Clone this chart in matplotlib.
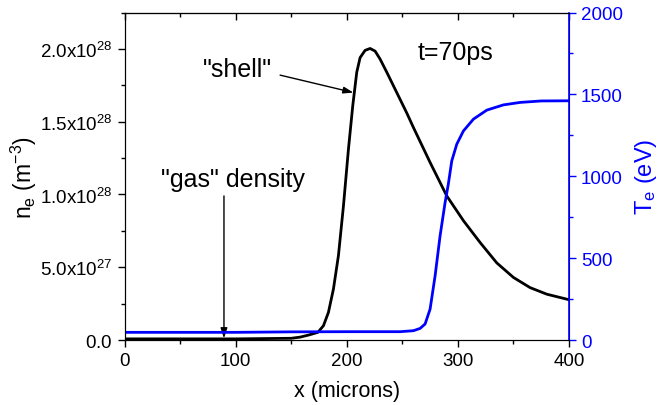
import numpy as np
import matplotlib.pyplot as plt
from matplotlib.ticker import FixedLocator, FixedFormatter, MultipleLocator

plt.rcParams["font.family"] = ["Liberation Sans", "DejaVu Sans"]
plt.rcParams["mathtext.fontset"] = "custom"
plt.rcParams["mathtext.rm"] = "Liberation Sans"
plt.rcParams["mathtext.it"] = "Liberation Sans:italic"

# electron density profile (units of 1e28 m^-3)
x_ne = [0, 50, 100, 150, 158, 166, 174, 179, 183.5, 188, 192.5, 197, 201.5,
        205.4, 209, 212, 216.5, 221, 225.5, 230, 236, 245, 254, 260, 275, 290,
        305, 320, 335, 350, 365, 380, 400]
ne = [0.008, 0.008, 0.008, 0.012, 0.02, 0.035, 0.053, 0.098, 0.19, 0.35, 0.58,
      0.92, 1.31, 1.61, 1.84, 1.94, 1.99, 2.003, 1.985, 1.93, 1.84, 1.70, 1.56,
      1.46, 1.22, 0.99, 0.82, 0.67, 0.53, 0.43, 0.36, 0.315, 0.277]

# electron temperature profile (eV)
x_te = [0, 50, 100, 150, 200, 248, 260, 266, 270.5, 275, 279.5, 284, 288.5,
        291.4, 294.5, 299, 305, 314, 326, 341, 356, 375, 400]
te = [47, 47, 47, 50, 51, 51, 57, 71, 98, 189, 392, 637, 840, 952, 1094, 1196,
      1277, 1349, 1404, 1436, 1451, 1460, 1461]

ne_ticks = [0, 0.5, 1.0, 1.5, 2.0]
ne_labels = [r"$\mathregular{0.0}$", r"$\mathregular{5.0x10^{27}}$",
             r"$\mathregular{1.0x10^{28}}$", r"$\mathregular{1.5x10^{28}}$",
             r"$\mathregular{2.0x10^{28}}$"]

BLUE = "#0000ff"
fig = plt.figure(figsize=(6.68, 4.06), dpi=100)
ax = fig.add_axes([0.1864, 0.160, 0.6654, 0.8067])
ax2 = ax.twinx()

ax.plot(np.array(x_ne), np.array(ne) * 1e28, color="black", lw=2, zorder=3)
ax2.plot(x_te, te, color=BLUE, lw=2)

ax.set_xlim(0, 400)
ax.set_ylim(0, 2.25e28)
ax2.set_ylim(0, 2000)

ax.yaxis.set_major_locator(FixedLocator([v * 1e28 for v in ne_ticks]))
ax.yaxis.set_major_formatter(FixedFormatter(ne_labels))
ax.yaxis.set_minor_locator(MultipleLocator(0.25e28))
ax.xaxis.set_major_locator(MultipleLocator(100))
ax.xaxis.set_minor_locator(MultipleLocator(50))
ax2.yaxis.set_major_locator(MultipleLocator(500))
ax2.yaxis.set_minor_locator(MultipleLocator(250))

ax.tick_params(axis="both", which="both", direction="out", labelsize=13.5,
               width=1)
ax.tick_params(axis="both", which="major", length=5)
ax.tick_params(axis="both", which="minor", length=3)

# top ticks point inward
top = ax.secondary_xaxis("top")
top.xaxis.set_major_locator(MultipleLocator(100))
top.xaxis.set_minor_locator(MultipleLocator(50))
top.tick_params(which="both", direction="in", labeltop=False, width=1)
top.tick_params(which="major", length=5)
top.tick_params(which="minor", length=3)

ax2.tick_params(axis="y", which="both", colors=BLUE, labelsize=13.5, width=1)
ax2.tick_params(axis="y", which="major", length=5)
ax2.tick_params(axis="y", which="minor", length=3)
ax2.spines["right"].set_color(BLUE)
ax2.spines["right"].set_linewidth(1.2)

ax.set_xlabel("x (microns)", fontsize=15.5, labelpad=8)
ax.set_ylabel(r"n$_\mathregular{e}$ (m$^\mathregular{-3}$)", fontsize=16.5,
              labelpad=1)
ax2.set_ylabel(r"T$_\mathregular{e}$ (eV)", fontsize=17, color=BLUE, labelpad=7)

ax.text(297.5, 1.98e28, "t=70ps", fontsize=18, ha="center", va="center")
ax.text(102, 1.86e28, '"shell"', fontsize=18, ha="center", va="center")
ax.annotate("", xy=(206, 1.70e28), xytext=(140, 1.82e28),
            arrowprops=dict(arrowstyle="-|>,head_length=0.6,head_width=0.2",
                            color="black", lw=1, shrinkA=0, shrinkB=0))
ax.text(97.6, 1.105e28, '"gas" density', fontsize=18, ha="center",
        va="center")
ax.annotate("", xy=(89.5, 0.012e28), xytext=(89.5, 0.99e28),
            arrowprops=dict(arrowstyle="-|>,head_length=0.6,head_width=0.2",
                            color="black", lw=1, shrinkA=0, shrinkB=0))

fig.savefig("out.png", dpi=100, facecolor="white")
